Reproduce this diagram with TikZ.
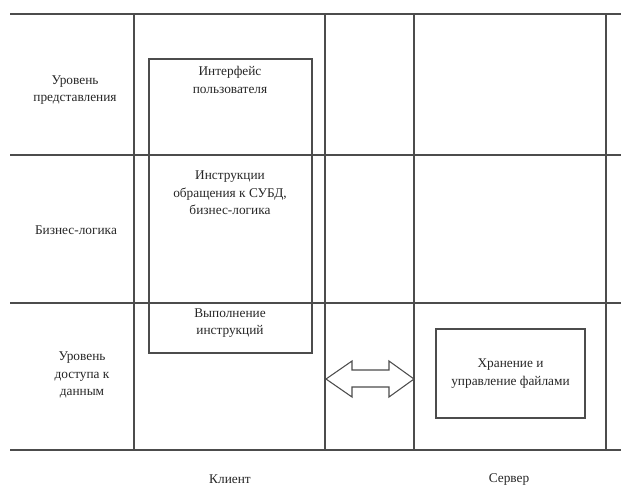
\documentclass[tikz,border=0pt]{standalone}
\usepackage{fontspec}
\setmainfont{Liberation Serif}
\usetikzlibrary{positioning}
\tikzset{
  grid line/.style={draw=black!70, line width=0.9pt},
  frame box/.style={draw=black!70, line width=0.8pt},
  lbl/.style={align=center, font=\fontsize{10}{13}\selectfont, text=black!85, inner sep=0.75pt},
}

\begin{document}
\begin{tikzpicture}[x=0.75pt,y=0.75pt,yscale=-1,xscale=1]
\useasboundingbox (0,0) rectangle (621,487);

%Straight Lines: rows
\foreach \yr in {14,155,303,450} \draw [grid line] (10,\yr) -- (621,\yr);
%Straight Lines: columns
\foreach \xc in {134,325,414,606} \draw [grid line] (\xc,14) -- (\xc,450);

%Shape: Rectangle [client]
\draw [frame box] (149,59) rectangle (312,353);
%Shape: Double Arrow
\draw [frame box] (326,379) -- (352,361) -- (352,370) -- (389,370) -- (389,361) -- (414,379) -- (389,397) -- (389,387) -- (352,387) -- (352,397) -- cycle;
%Shape: Rectangle [server]
\node (storage) [frame box, lbl, minimum width=111.75pt, minimum height=66.75pt] at (510.5,373.5) {Хранение и\\управление файлами};

% Text Node
\node (present) [lbl] at (75,90) {Уровень\\представления};
% Text Node
\node (logic) [lbl] at (76,230) {Бизнес-логика};
% Text Node
\node (access) [lbl] at (82,375) {Уровень\\доступа к\\данным};
% Text Node
\node (ui) [lbl] at (230,80) {Интерфейс\\пользователя};
% Text Node
\node (dbms) [lbl] at (230,193) {Инструкции\\обращения к СУБД,\\бизнес-логика};
% Text Node
\node (exec) [lbl] at (230,323) {Выполнение\\инструкций};
% Text Node
\node (client) [lbl] at (230,479) {Клиент};
% Text Node
\node (server) [lbl] at (509,479) {Сервер};

\end{tikzpicture}
\end{document}
